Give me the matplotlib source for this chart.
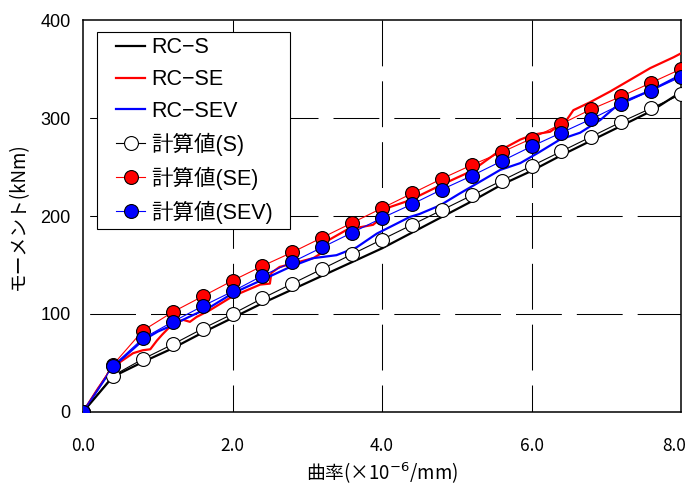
import numpy as np
import matplotlib
matplotlib.use("Agg")
import matplotlib.pyplot as plt
from matplotlib.transforms import ScaledTranslation
from matplotlib.legend_handler import HandlerLine2D
from matplotlib.patches import Rectangle

plt.rcParams['font.family'] = ['Noto Sans CJK JP', 'DejaVu Sans']
latin = ['Liberation Sans', 'Noto Sans CJK JP']
narrow = ['Liberation Sans Narrow', 'Noto Sans CJK JP']

# experimental curves
rc_s_x = [0, 0.4, 0.8, 1.2, 1.6, 2.0, 2.4, 2.8, 3.2, 3.6, 4.0, 4.4, 4.8,
          5.2, 5.6, 6.0, 6.4, 6.8, 7.2, 7.6, 8.05]
rc_s_y = [0, 36, 51, 65, 81, 96, 111, 125, 139, 153, 167, 183, 199,
          215, 232, 246, 262, 277, 292, 307, 329]

rc_se_x = [0, 0.2, 0.4, 0.67, 0.8, 0.9, 0.99, 1.06, 1.2, 1.34, 1.43, 1.52,
           1.7, 2.0, 2.37, 2.5, 2.52, 2.63, 3.08, 3.21, 3.23, 3.53, 3.88,
           4.07, 4.1, 4.37, 4.8, 5.2, 5.58, 5.85, 6.02, 6.25, 6.47, 6.56,
           6.78, 7.05, 7.59, 7.9, 8.05]
rc_se_y = [0, 24, 46, 60, 63, 64, 73, 79, 90, 94, 92, 97,
           104, 118, 130, 131, 142, 148, 157, 163, 173, 186, 191,
           203, 209, 216, 232, 246, 267, 278, 283, 286, 298, 308,
           316, 327, 351, 362, 368]

rc_sev_x = [0, 0.4, 0.8, 1.0, 1.12, 1.39, 1.7, 2.0, 2.46, 2.77, 3.08, 3.39,
            3.66, 3.93, 4.19, 4.37, 4.5, 4.78, 5.04, 5.58, 5.85, 6.1, 6.38,
            6.65, 6.92, 7.18, 7.59, 8.05]
rc_sev_y = [0, 46, 73, 82, 86, 96, 107, 121, 137, 148, 157, 160,
            168, 182, 192, 199, 202, 211, 223, 247, 254, 265, 278,
            285, 298, 315, 328, 346]

# calculated values
calc_x = [0, 0.4, 0.8, 1.2, 1.6, 2.0, 2.4, 2.8, 3.2, 3.6, 4.0, 4.4, 4.8,
          5.2, 5.6, 6.0, 6.4, 6.8, 7.2, 7.6, 8.0]
calc_s = [0, 37, 54, 69, 85, 100, 116, 131, 146, 161, 176, 191, 206,
          221, 236, 251, 266, 281, 296, 310, 324]
calc_se = [0, 48, 83, 102, 118, 134, 149, 163, 178, 193, 208, 223, 238,
           252, 265, 279, 294, 309, 322, 336, 350]
calc_sev = [0, 47, 75, 92, 108, 123, 139, 153, 168, 183, 198, 212, 227,
            241, 256, 271, 285, 299, 314, 328, 342]

x_ticks = [0, 2, 4, 6, 8]
y_ticks = [0, 100, 200, 300, 400]

fig = plt.figure(figsize=(6.9, 4.86), dpi=100)
ax = fig.add_axes([0.1203, 0.1523, 0.8667, 0.8065])

# dashed grid lines (drawn top->bottom / left->right like the original)
for gx in x_ticks[1:-1]:
    ax.plot([gx, gx], [400, 0], color="black", lw=0.75,
            linestyle=(0, (44, 14.4)), zorder=1)
for gy in y_ticks[1:-1]:
    ax.plot([0, 8], [gy, gy], color="black", lw=0.75,
            linestyle=(52, (44, 14.4)), zorder=1)

ax.plot(rc_s_x, rc_s_y, color="black", lw=1.6, label="RC−S", zorder=3)
ax.plot(rc_se_x, rc_se_y, color="red", lw=1.6, label="RC−SE", zorder=3)
ax.plot(rc_sev_x, rc_sev_y, color="blue", lw=1.6, label="RC−SEV", zorder=3)

ax.plot(calc_x, calc_s, color="black", lw=0.8, marker="o", ms=10,
        mfc="white", mec="black", mew=0.8, label="計算値(S)", zorder=4)
ax.plot(calc_x, calc_se, color="red", lw=0.8, marker="o", ms=10,
        mfc="red", mec="black", mew=0.8, label="計算値(SE)", zorder=4)
ax.plot(calc_x, calc_sev, color="blue", lw=0.8, marker="o", ms=10,
        mfc="blue", mec="black", mew=0.8, label="計算値(SEV)", zorder=5)

ax.set_xlim(0, 8)
ax.set_ylim(0, 400)
ax.set_xticks(x_ticks)
ax.set_xticklabels([f"{v:.1f}" for v in x_ticks], family=narrow, fontsize=12.5)
ax.set_yticks(y_ticks)
ax.set_yticklabels([str(v) for v in y_ticks], family=latin, fontsize=13)
ax.tick_params(axis="x", length=0, pad=18)
ax.tick_params(axis="y", length=0, pad=9)
for s in ax.spines.values():
    s.set_linewidth(1.1)

# keep the last x label inside the figure
last = ax.get_xticklabels()[-1]
last.set_transform(last.get_transform() +
                   ScaledTranslation(-5 / 72, 0, fig.dpi_scale_trans))

ax.set_xlabel("曲率(×10$^{-6}$/mm)", fontsize=13.5, labelpad=4)
ax.set_ylabel("モーメント(kNm)", fontsize=13.5, labelpad=8)

hl = HandlerLine2D(xpad=0.64)
leg = ax.legend(loc="upper left", bbox_to_anchor=(0.0234, 0.969),
                prop={"family": latin, "size": 15.5},
                frameon=False, handlelength=2.0, handletextpad=0.28,
                labelspacing=0.5, borderpad=0.24, borderaxespad=0,
                handler_map={l: hl for l in ax.get_lines()[-6:]})
leg.set_zorder(10)

# square frame, a bit wider on the right like the original
fig.canvas.draw()
bb = leg.get_window_extent()
W, H = fig.bbox.width, fig.bbox.height
frame = Rectangle((bb.x0 / W, bb.y0 / H), (bb.width + 12) / W, bb.height / H,
                  transform=fig.transFigure, facecolor="white",
                  edgecolor="black", lw=0.8, zorder=9)
ax.add_artist(frame)
frame.set_clip_on(False)

fig.savefig("out.png", dpi=100)
